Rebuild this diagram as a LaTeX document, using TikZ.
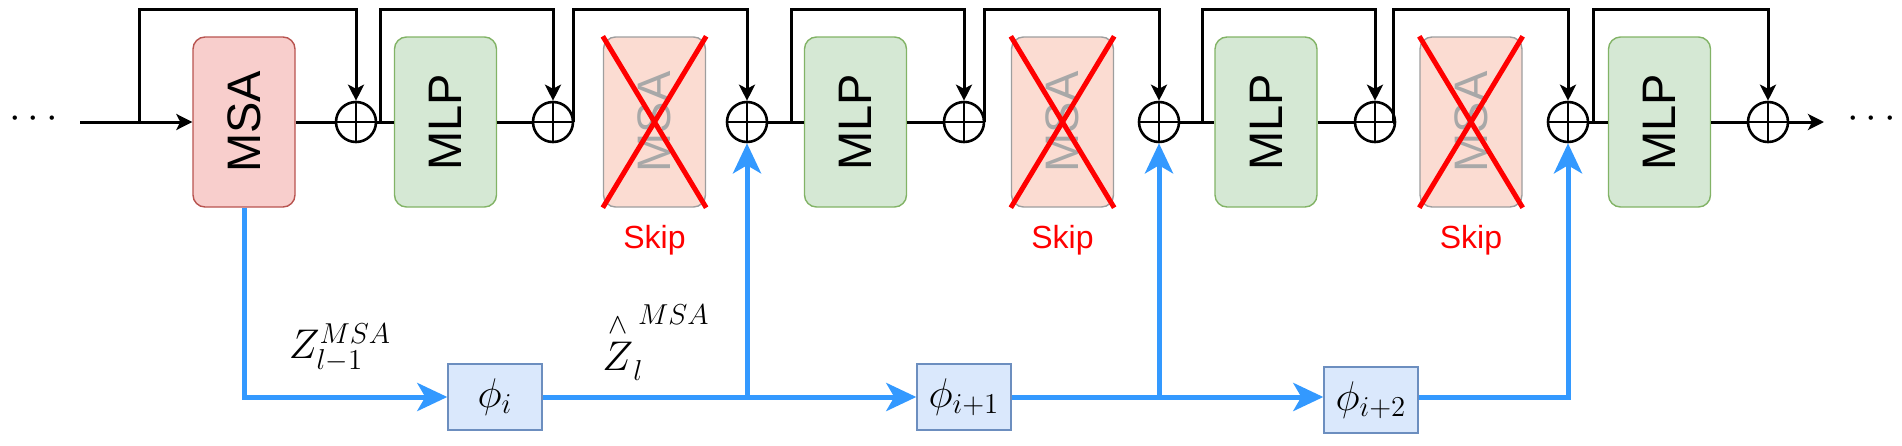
\documentclass[tikz,border=0pt]{standalone}
\usepackage{amsmath}
\usepackage{fontspec}
\newfontfamily\arialfont{Liberation Sans}
\usepackage{tikz}
\usetikzlibrary{
  arrows.meta,
  positioning,
  calc,
}

\definecolor{msafill}{HTML}{F8CECC}
\definecolor{msaline}{HTML}{B85450}
\definecolor{mlpfill}{HTML}{D5E8D4}
\definecolor{mlpline}{HTML}{82B366}
\definecolor{skipfill}{HTML}{FBDCD2}
\definecolor{skipline}{HTML}{9E9E9E}
\definecolor{skiptext}{HTML}{A8A8A8}
\definecolor{phifill}{HTML}{DAE8FC}
\definecolor{philine}{HTML}{6C8EBF}
\definecolor{flowblue}{HTML}{3399FF}

\begin{document}
\begin{tikzpicture}[
  x=0.5pt, y=-0.5pt,
  every node/.style={align=center},
  blockbox/.style={rounded corners=6pt, minimum width=51pt, minimum height=85pt,
                   line width=0.7pt, inner sep=0pt,
                   font=\arialfont\fontsize{23.5}{24}\selectfont},
  msabox/.style={blockbox, fill=msafill, draw=msaline},
  mlpbox/.style={blockbox, fill=mlpfill, draw=mlpline},
  skipbox/.style={blockbox, fill=skipfill, draw=skipline, text=skiptext},
  skiplabel/.style={text=red, font=\arialfont\fontsize{16}{16}\selectfont},
  addop/.style={circle, draw, line width=1.3pt, minimum size=20pt, inner sep=0pt,
                path picture={
                  \draw[line width=1.3pt]
                    (path picture bounding box.north) -- (path picture bounding box.south)
                    (path picture bounding box.west) -- (path picture bounding box.east);}},
  phibox/.style={draw=philine, fill=phifill, line width=0.7pt, minimum width=47pt,
                 minimum height=33pt, inner sep=0pt, font=\fontsize{22}{22}\selectfont},
  zlabel/.style={font=\fontsize{20.5}{20.5}\selectfont, inner sep=1pt},
  dots/.style={font=\fontsize{22}{22}\selectfont, inner sep=0pt},
  wire/.style={line width=1.5pt},
  res/.style={wire, -{Stealth[length=8pt,width=8pt,inset=2pt]}},
  bus/.style={draw=flowblue, line width=2.5pt},
  flow/.style={bus, -{Stealth[length=15pt,width=14pt,inset=4pt]}},
  cross/.style={red, line width=2.5pt},
]
\useasboundingbox (0,0) rectangle (1902,445);

% residual adders
\foreach \n/\x in {1/356,2/553,3/747,4/964,5/1159,6/1375,7/1568,8/1768}
  \node[addop] (add\n) at (\x,122) {};

% blocks
\node[msabox] (msa) at (244,122) {\rotatebox{90}{MSA}};
\foreach \n/\x in {1/445.5,2/855.5,3/1266,4/1659.5}
  \node[mlpbox] (mlp\n) at (\x,122) {\rotatebox{90}{MLP}};
\foreach \n/\x in {1/654.5,2/1062.5,3/1471}{
  \node[skipbox] (skip\n) at (\x,122) {\rotatebox{90}{MSA}};
  \draw[cross] (skip\n.north west) -- (skip\n.south east)
               (skip\n.north east) -- (skip\n.south west);
  \node[skiplabel] (skiptxt\n) at (\x,240) {Skip};
}

\node[phibox] (phi1) at (495,397) {$\phi_i$};
\node[phibox] (phi2) at (964,397) {$\phi_{i+1}$};
\node[phibox] (phi3) at (1371,400) {$\phi_{i+2}$};

\node[zlabel] (zin) at (340,348) {$Z_{l-1}^{MSA}$};
\node[zlabel] (zout) at (656,343) {$\overset{\wedge}{Z}_l^{\,MSA}$};

\node[dots] (dotsL) at (37,119) {$\cdots$};
\node[dots] (dotsR) at (1875,119) {$\cdots$};

% main path
\coordinate (in) at (80,122);
\coordinate (out) at (1824,122);
\coordinate (top) at (0,9);
\foreach \n/\x in {1/139,2/380,3/573,4/791,5/984,6/1202,7/1393,8/1593}
  \coordinate (b\n) at (\x,122);

\draw[res] (in) -- (msa.west);
\draw[wire] (msa.east) -- (add1.west);
\draw[wire] (add1.east) -- (mlp1.west);
\draw[wire] (mlp1.east) -- (add2.west);
\draw[wire] (add2.east) -- (b3);
\draw[wire] (add3.east) -- (mlp2.west);
\draw[wire] (mlp2.east) -- (add4.west);
\draw[wire] (add5.east) -- (mlp3.west);
\draw[wire] (mlp3.east) -- (add6.west);
\draw[wire] (add6.east) -- (b7);
\draw[wire] (add7.east) -- (mlp4.west);
\draw[wire] (mlp4.east) -- (add8.west);
\draw[res] (add8.east) -- (out);

\foreach \n in {1,...,8}
  \draw[res] (b\n) |- (top -| add\n) -- (add\n.north);

% reuse path
\coordinate (j1) at (add3 |- phi1);
\coordinate (j2) at (add5 |- phi2);
\draw[flow] (msa.south) |- (phi1.west);
\draw[bus] (phi1.east) -- (j1);
\draw[flow] (j1) -- (add3.south);
\draw[flow] (j1) -- (phi2.west);
\draw[bus] (phi2.east) -- (j2);
\draw[flow] (j2) -- (add5.south);
\draw[flow] (j2) -- (phi3.west |- j2);
\draw[flow] (phi3.east |- j2) -| (add7.south);

\end{tikzpicture}
\end{document}
